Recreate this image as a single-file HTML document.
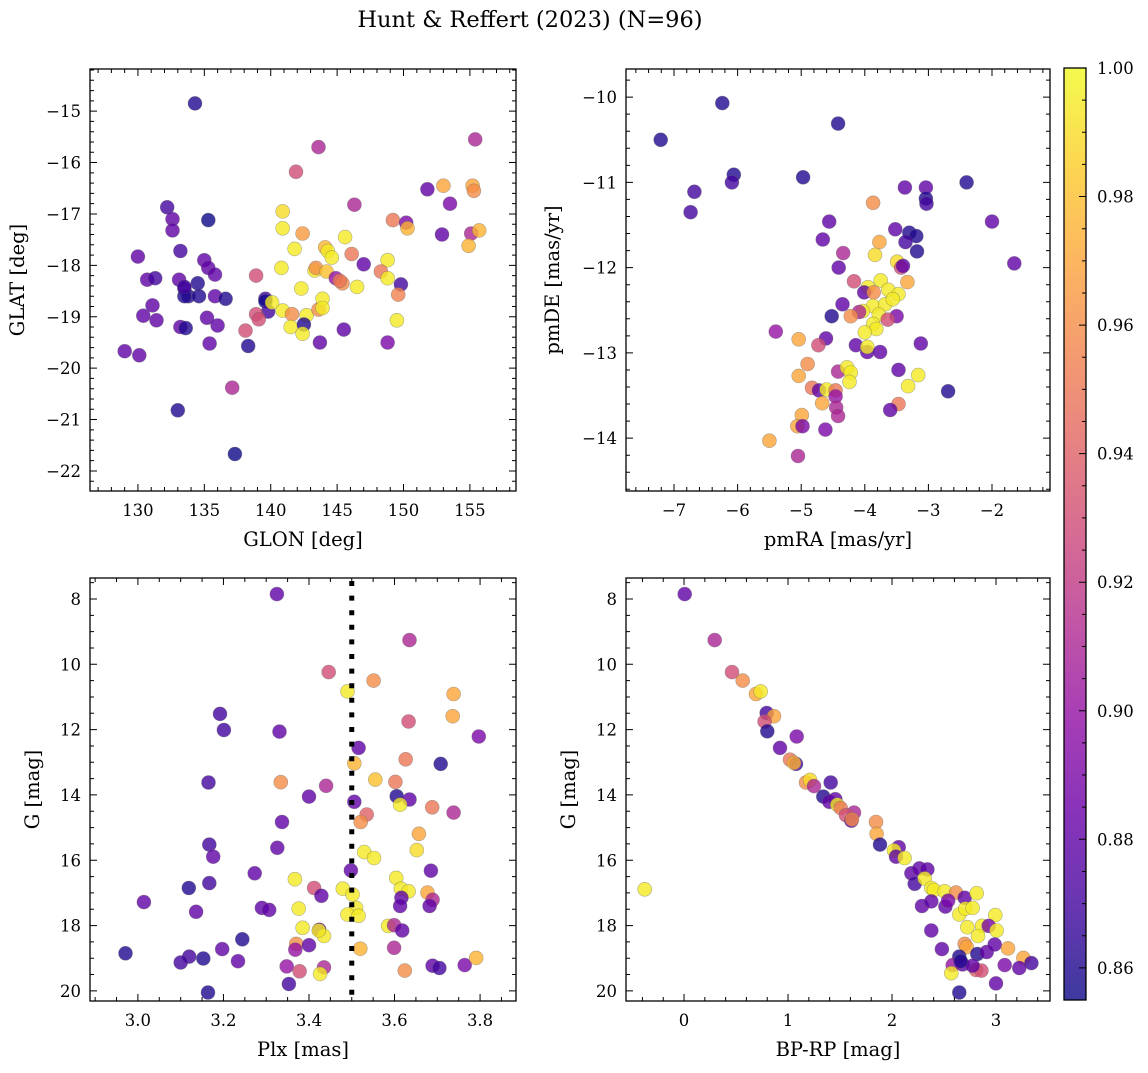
<!DOCTYPE html>
<html><head><meta charset="utf-8"><style>
html,body{margin:0;padding:0;background:#fff;}
svg text{font-family:"DejaVu Serif","Liberation Serif",serif;fill:#000;}
</style></head><body>
<svg id="fig" xmlns="http://www.w3.org/2000/svg" width="1148" height="1068" viewBox="0 0 1148 1068">
<rect width="1148" height="1068" fill="#fff"/>
<text x="530" y="27" font-size="22.5" text-anchor="middle">Hunt &amp; Reffert (2023) (N=96)</text>
</svg>
<script>
// ---- data: top-left (GLON, GLAT, prob)
const glonGlat = [[134.3,-14.85,.86],[143.6,-15.7,.91],[141.9,-16.18,.93],[155.4,-15.55,.91],[153,-16.45,.97],[155.2,-16.45,.97],[155.3,-16.55,.96],[151.8,-16.52,.88],[146.3,-16.82,.91],[153.5,-16.8,.89],[132.2,-16.87,.87],[132.6,-17.1,.88],[132.6,-17.32,.88],[135.3,-17.12,.855],[140.9,-16.95,.99],[140.9,-17.28,.995],[142.4,-17.38,.965],[145.6,-17.45,.995],[149.2,-17.12,.95],[150.2,-17.17,.89],[150.3,-17.28,.975],[152.9,-17.4,.88],[155.1,-17.38,.91],[155.7,-17.32,.975],[154.9,-17.62,.975],[133.2,-17.72,.87],[130,-17.83,.88],[141.8,-17.68,.995],[144.1,-17.65,.975],[144.3,-17.72,.995],[144.6,-17.85,.995],[146.1,-17.78,.95],[147.0,-17.98,.88],[148.8,-17.9,.995],[135,-17.9,.88],[135.3,-18.05,.88],[135.8,-18.18,.88],[130.7,-18.28,.88],[131.3,-18.25,.87],[133.1,-18.28,.88],[133.5,-18.45,.87],[134.5,-18.35,.86],[133.8,-18.6,.86],[133.5,-18.6,.86],[134.6,-18.6,.86],[135.8,-18.6,.88],[138.9,-18.2,.93],[140.8,-18.05,.995],[143.3,-18.1,.995],[143.4,-18.05,.96],[144.2,-18.12,.98],[144.9,-18.25,.90],[145.4,-18.35,.96],[145.2,-18.3,.95],[146.5,-18.42,.995],[148.3,-18.12,.95],[148.8,-18.25,.995],[149.8,-18.37,.87],[149.6,-18.57,.955],[142.3,-18.45,.995],[137.1,-20.38,.91],[131.1,-18.78,.88],[130.4,-18.98,.88],[131.4,-19.07,.88],[133.2,-19.2,.88],[133.6,-19.22,.86],[135.2,-19.02,.88],[135.4,-19.52,.88],[136.0,-19.17,.88],[136.6,-18.65,.86],[139.6,-18.65,.87],[139.6,-18.7,.855],[139.8,-18.9,.87],[138.9,-18.95,.93],[139.1,-19.05,.93],[140.1,-18.72,.995],[140.9,-18.88,.995],[141.6,-18.95,.96],[141.5,-19.2,.995],[142.7,-18.97,.995],[143.6,-18.86,.96],[143.9,-18.65,.995],[143.9,-18.83,.995],[143.7,-19.5,.88],[142.5,-19.15,.86],[142.4,-19.33,.995],[145.5,-19.25,.88],[149.5,-19.07,.995],[148.8,-19.5,.89],[138.1,-19.27,.93],[138.3,-19.57,.86],[129.0,-19.67,.88],[130.1,-19.75,.88],[133,-20.82,.86],[137.3,-21.67,.855],[133.5,-18.42,.87]];
// ---- data: top-right (pmRA, pmDE, prob)
const pmRaDe = [[-7.21,-10.5,.86],[-6.24,-10.07,.86],[-4.42,-10.31,.86],[-6.06,-10.91,.86],[-6.09,-11.0,.87],[-6.68,-11.11,.87],[-6.74,-11.35,.87],[-4.97,-10.94,.86],[-3.37,-11.06,.88],[-3.04,-11.06,.88],[-3.04,-11.19,.86],[-3.03,-11.25,.87],[-2.40,-11.0,.86],[-2.0,-11.46,.88],[-1.65,-11.95,.88],[-3.87,-11.24,.96],[-4.56,-11.46,.88],[-4.66,-11.67,.88],[-3.52,-11.55,.88],[-3.30,-11.59,.86],[-3.19,-11.63,.86],[-3.36,-11.70,.87],[-3.18,-11.81,.86],[-3.77,-11.70,.97],[-3.84,-11.85,.99],[-4.34,-11.83,.91],[-3.49,-11.93,.99],[-3.43,-12.0,.93],[-3.40,-11.98,.88],[-4.41,-12.0,.88],[-4.17,-12.16,.93],[-3.33,-12.17,.97],[-3.75,-12.15,.995],[-3.95,-12.23,.995],[-3.63,-12.26,.995],[-3.47,-12.31,.995],[-4.01,-12.29,.88],[-3.86,-12.29,.96],[-4.35,-12.43,.88],[-3.87,-12.45,.995],[-3.68,-12.43,.995],[-3.56,-12.37,.995],[-4.03,-12.51,.995],[-3.78,-12.55,.995],[-4.09,-12.52,.91],[-3.5,-12.57,.89],[-4.22,-12.57,.96],[-4.52,-12.57,.86],[-3.64,-12.61,.93],[-3.87,-12.66,.995],[-3.82,-12.72,.995],[-4.00,-12.76,.995],[-4.14,-12.91,.88],[-3.96,-12.99,.88],[-3.96,-12.93,.995],[-3.76,-12.99,.88],[-3.12,-12.89,.88],[-4.61,-12.83,.88],[-4.73,-12.91,.93],[-5.40,-12.75,.90],[-5.04,-12.84,.97],[-4.90,-13.13,.96],[-5.04,-13.27,.97],[-4.83,-13.41,.95],[-4.72,-13.44,.88],[-4.60,-13.43,.995],[-4.46,-13.44,.95],[-4.46,-13.51,.90],[-4.45,-13.64,.91],[-4.42,-13.74,.91],[-4.42,-13.22,.91],[-4.28,-13.17,.995],[-4.22,-13.23,.995],[-4.24,-13.34,.995],[-4.67,-13.59,.97],[-4.62,-13.90,.89],[-3.47,-13.20,.88],[-3.16,-13.26,.995],[-3.32,-13.39,.995],[-2.69,-13.45,.86],[-3.47,-13.60,.95],[-3.60,-13.67,.88],[-4.99,-13.73,.97],[-5.06,-13.86,.97],[-4.98,-13.86,.89],[-5.50,-14.03,.97],[-5.05,-14.21,.91]];
// ---- data: bottom-left (Plx, G, prob)
const plxG = [[3.325,7.85,.88],[3.635,9.26,.91],[3.446,10.24,.93],[3.551,10.5,.96],[3.49,10.83,.995],[3.738,10.91,.97],[3.736,11.59,.97],[3.633,11.75,.93],[3.192,11.52,.87],[3.201,12.01,.87],[3.331,12.06,.88],[3.797,12.21,.89],[3.516,12.56,.88],[3.506,13.03,.975],[3.626,12.91,.95],[3.708,13.05,.86],[3.334,13.61,.96],[3.44,13.72,.91],[3.555,13.53,.98],[3.602,13.60,.95],[3.165,13.62,.87],[3.40,14.05,.88],[3.506,14.21,.88],[3.605,14.04,.86],[3.635,14.14,.88],[3.613,14.3,.995],[3.688,14.38,.95],[3.738,14.54,.91],[3.535,14.6,.94],[3.521,14.83,.96],[3.337,14.83,.88],[3.657,15.19,.97],[3.652,15.69,.99],[3.167,15.52,.87],[3.176,15.89,.88],[3.326,15.62,.88],[3.529,15.75,.995],[3.552,15.93,.995],[3.273,16.4,.88],[3.498,16.31,.88],[3.685,16.32,.88],[3.367,16.58,.995],[3.604,16.54,.995],[3.119,16.85,.86],[3.167,16.70,.87],[3.412,16.85,.93],[3.429,17.09,.88],[3.479,16.87,.995],[3.502,17.05,.995],[3.615,16.87,.995],[3.633,16.95,.995],[3.616,17.15,.88],[3.677,16.99,.97],[3.689,17.21,.91],[3.014,17.28,.88],[3.136,17.58,.88],[3.29,17.46,.88],[3.307,17.52,.88],[3.376,17.48,.995],[3.51,17.46,.995],[3.49,17.66,.995],[3.516,17.7,.995],[3.613,17.40,.88],[3.682,17.40,.88],[3.385,18.07,.995],[3.424,18.13,.88],[3.435,18.32,.995],[3.423,18.15,.995],[3.585,18.01,.995],[3.599,17.99,.91],[3.618,18.15,.88],[3.244,18.42,.86],[3.37,18.56,.96],[3.40,18.6,.88],[3.368,18.74,.90],[3.52,18.71,.975],[3.599,18.68,.91],[2.971,18.85,.86],[3.12,18.95,.87],[3.10,19.13,.87],[3.153,19.01,.86],[3.197,18.72,.88],[3.234,19.09,.88],[3.348,19.25,.90],[3.378,19.4,.93],[3.435,19.28,.91],[3.426,19.48,.995],[3.624,19.38,.96],[3.689,19.23,.88],[3.705,19.3,.87],[3.764,19.21,.89],[3.791,18.99,.975],[3.353,19.79,.87],[3.164,20.05,.86]];
const plxCut = 3.5;
// ---- data: bottom-right (BP-RP, G, prob)
const colorG = [[0.006,7.85,.88],[0.295,9.26,.91],[0.461,10.24,.93],[0.564,10.5,.96],[0.692,10.91,.97],[0.737,10.83,.995],[0.795,11.49,.87],[0.865,11.59,.97],[0.775,11.75,.93],[0.801,12.05,.86],[1.083,12.21,.89],[0.923,12.56,.88],[1.019,12.92,.95],[1.077,13.05,.87],[1.057,13.02,.975],[1.173,13.62,.96],[1.211,13.54,.99],[1.25,13.73,.91],[1.41,13.62,.87],[1.339,14.05,.86],[1.397,14.21,.88],[1.455,14.13,.88],[1.474,14.3,.995],[1.506,14.4,.95],[1.634,14.54,.91],[1.557,14.62,.93],[1.609,14.79,.88],[1.615,14.75,.96],[1.846,14.83,.96],[1.852,15.19,.97],[1.884,15.52,.86],[2.064,15.6,.88],[2.019,15.7,.995],[2.038,15.89,.88],[2.121,15.93,.995],[2.186,16.4,.88],[2.263,16.25,.88],[2.34,16.28,.88],[2.218,16.72,.87],[2.314,16.56,.995],[2.378,16.85,.995],[2.404,16.91,.995],[2.506,16.95,.995],[2.615,16.99,.96],[2.699,17.15,.88],[2.814,17.01,.995],[2.288,17.4,.88],[2.378,17.26,.88],[2.513,17.42,.88],[2.539,17.24,.89],[2.647,17.66,.995],[2.705,17.48,.995],[2.775,17.46,.995],[2.993,17.68,.995],[2.724,18.05,.995],[2.865,18.01,.995],[2.93,18.01,.89],[3.006,18.15,.995],[2.827,18.32,.995],[2.378,18.15,.88],[2.48,18.72,.88],[2.699,18.56,.96],[2.718,18.66,.97],[2.82,18.87,.86],[2.91,18.81,.88],[2.987,18.58,.88],[3.115,18.70,.97],[3.263,18.99,.97],[3.34,19.15,.87],[3.224,19.3,.88],[3.083,19.21,.89],[2.647,18.95,.86],[2.679,19.19,.88],[2.583,19.21,.90],[2.808,19.36,.94],[2.859,19.38,.93],[2.775,19.23,.88],[2.66,19.09,.86],[2.57,19.46,.995],[3.0,19.77,.88],[2.647,20.05,.86],[-0.378,16.89,.995]];
// tick labels
const tlX = [130,135,140,145,150,155];
const tlY = [-15,-16,-17,-18,-19,-20,-21,-22];
const trX = [-7,-6,-5,-4,-3,-2];
const trY = [-10,-11,-12,-13,-14];
const blX = [3.0,3.2,3.4,3.6,3.8];
const gTicks = [8,10,12,14,16,18,20];
const brX = [0,1,2,3];
const cbTicks = [0.86,0.88,0.90,0.92,0.94,0.96,0.98,1.00];
const vmin = 0.855, vmax = 1.0;

const NS = "http://www.w3.org/2000/svg";
const svg = document.getElementById('fig');
function mk(tag, attrs, parent){const e=document.createElementNS(NS,tag);for(const k in attrs)e.setAttribute(k,attrs[k]);(parent||svg).appendChild(e);return e;}
const stops=[[13,8,135],[65,4,157],[106,0,168],[143,13,164],[177,42,144],[204,71,120],[225,100,98],[242,132,75],[252,166,54],[252,206,37],[240,249,33]];
function plasma(v){let t=(v-vmin)/(vmax-vmin);t=Math.max(0,Math.min(1,t))*10;const i=Math.min(9,Math.floor(t)),f=t-i;const a=stops[i],b=stops[i+1];return `rgb(${Math.round(a[0]+(b[0]-a[0])*f)},${Math.round(a[1]+(b[1]-a[1])*f)},${Math.round(a[2]+(b[2]-a[2])*f)})`;}
function fmt(v,d){return (v<0?'\u2212':'')+Math.abs(v).toFixed(d);}

function panel(o){
  const g=mk('g',{});
  
  
  const sx=v=>o.x0+(v-o.xmin)/(o.xmax-o.xmin)*(o.x1-o.x0);
  const sy=o.yinv? v=>o.y0+(v-o.ymin)/(o.ymax-o.ymin)*(o.y1-o.y0) : v=>o.y1-(v-o.ymin)/(o.ymax-o.ymin)*(o.y1-o.y0);
  const pts=mk('g',{},g);
  
  
  o.data.forEach(d=>{
    const c=mk('circle',{cx:sx(d[0]).toFixed(1),cy:sy(d[1]).toFixed(1),r:7,fill:plasma(d[2]),'fill-opacity':0.8,stroke:'#666','stroke-opacity':0.5,'stroke-width':0.6},pts);
    
    
  });
  if(o.vline!==undefined){
    const l=mk('line',{x1:sx(o.vline),x2:sx(o.vline),y1:o.y0+3,y2:o.y1,stroke:'#000','stroke-width':5,'stroke-dasharray':'5 9.6'},g);
    
    
  }
  let d='';
  const lo=Math.min(o.xmin,o.xmax),hi=Math.max(o.xmin,o.xmax);
  for(let k=Math.ceil(lo/o.xminor-1e-6);k*o.xminor<=hi+1e-9;k++){const v=k*o.xminor;const X=sx(v);const maj=Math.abs(v/o.xmajor-Math.round(v/o.xmajor))<1e-6;const L=maj?7:4;d+=`M${X} ${o.y1}v${-L}M${X} ${o.y0}v${L}`;}
  const ylo=Math.min(o.ymin,o.ymax),yhi=Math.max(o.ymin,o.ymax);
  for(let k=Math.ceil(ylo/o.yminor-1e-6);k*o.yminor<=yhi+1e-9;k++){const v=k*o.yminor;const Y=sy(v);const maj=Math.abs(v/o.ymajor-Math.round(v/o.ymajor))<1e-6;const L=maj?7:4;d+=`M${o.x0} ${Y}h${L}M${o.x1} ${Y}h${-L}`;}
  mk('path',{d:d,stroke:'#000','stroke-width':1,fill:'none'},g);
  const fr=mk('rect',{x:o.x0,y:o.y0,width:o.x1-o.x0,height:o.y1-o.y0,fill:'none',stroke:'#000','stroke-width':1.3},g);
  
  
  o.xt.forEach(v=>{const t=mk('text',{x:sx(v),y:o.y1+25,'font-size':16.5,'text-anchor':'middle'},g);t.textContent=fmt(v,o.xd);
    
    });
  o.yt.forEach(v=>{const t=mk('text',{x:o.x0-9,y:sy(v)+6,'font-size':16.5,'text-anchor':'end'},g);t.textContent=fmt(v,o.yd);
    
    });
  const xl=mk('text',{x:(o.x0+o.x1)/2,y:o.y1+55,'font-size':19.5,'text-anchor':'middle'},g);xl.textContent=o.xlabel;
  
  
  const yx=o.ylx, yy=(o.y0+o.y1)/2;
  const yl=mk('text',{x:yx,y:yy,'font-size':19.5,'text-anchor':'middle',transform:`rotate(-90 ${yx} ${yy})`},g);yl.textContent=o.ylabel;
  
  
}
panel({name:'glon-glat-panel',x0:90,x1:516,y0:69,y1:491,xmin:126.39,xmax:158.47,ymin:-22.39,ymax:-14.18,xmajor:5,xminor:1,ymajor:1,yminor:0.2,xt:tlX,yt:tlY,xd:0,yd:0,data:glonGlat,xlabel:'GLON [deg]',ylabel:'GLAT [deg]',ylx:24});
panel({name:'proper-motion-panel',x0:626,x1:1050,y0:69,y1:491,xmin:-7.755,xmax:-1.088,ymin:-14.62,ymax:-9.67,xmajor:1,xminor:0.2,ymajor:1,yminor:0.2,xt:trX,yt:trY,xd:0,yd:0,data:pmRaDe,xlabel:'pmRA [mas/yr]',ylabel:'pmDE [mas/yr]',ylx:559});
panel({name:'parallax-mag-panel',x0:90,x1:516,y0:578,y1:1001,xmin:2.888,xmax:3.884,ymin:7.357,ymax:20.31,yinv:true,xmajor:0.2,xminor:0.05,ymajor:2,yminor:0.5,xt:blX,yt:gTicks,xd:1,yd:0,data:plxG,vline:plxCut,xlabel:'Plx [mas]',ylabel:'G [mag]',ylx:39});
panel({name:'cmd-panel',x0:626,x1:1050,y0:578,y1:1001,xmin:-0.558,xmax:3.519,ymin:7.357,ymax:20.31,yinv:true,xmajor:1,xminor:0.2,ymajor:2,yminor:0.5,xt:brX,yt:gTicks,xd:0,yd:0,data:colorG,xlabel:'BP-RP [mag]',ylabel:'G [mag]',ylx:575});

// colorbar
(function(){
  const g=mk('g',{});
  
  
  const x0=1064,x1=1086,y0=68,y1=1000;
  const defs=mk('defs',{},g);
  const lg=mk('linearGradient',{id:'cbg',x1:0,y1:1,x2:0,y2:0},defs);
  for(let i=0;i<=20;i++){mk('stop',{offset:(i/20),'stop-color':plasma(vmin+(vmax-vmin)*i/20),'stop-opacity':0.8},lg);}
  mk('rect',{x:x0,y:y0,width:x1-x0,height:y1-y0,fill:'url(#cbg)'},g);
  const sy=v=>y1-(v-vmin)/(vmax-vmin)*(y1-y0);
  let d='';
  for(let k=Math.ceil(vmin/0.005-1e-6);k*0.005<=vmax+1e-9;k++){const v=k*0.005;const maj=Math.abs(v/0.02-Math.round(v/0.02))<1e-6;d+=`M${x1} ${sy(v)}h${maj?-7:-4}`;}
  mk('path',{d:d,stroke:'#000','stroke-width':1},g);
  mk('rect',{x:x0,y:y0,width:x1-x0,height:y1-y0,fill:'none',stroke:'#000','stroke-width':1.3},g);
  cbTicks.forEach(v=>{const t=mk('text',{x:x1+11,y:sy(v)+6,'font-size':16.5},g);t.textContent=v.toFixed(2);
    
    });
})();
</script>
</body></html>
